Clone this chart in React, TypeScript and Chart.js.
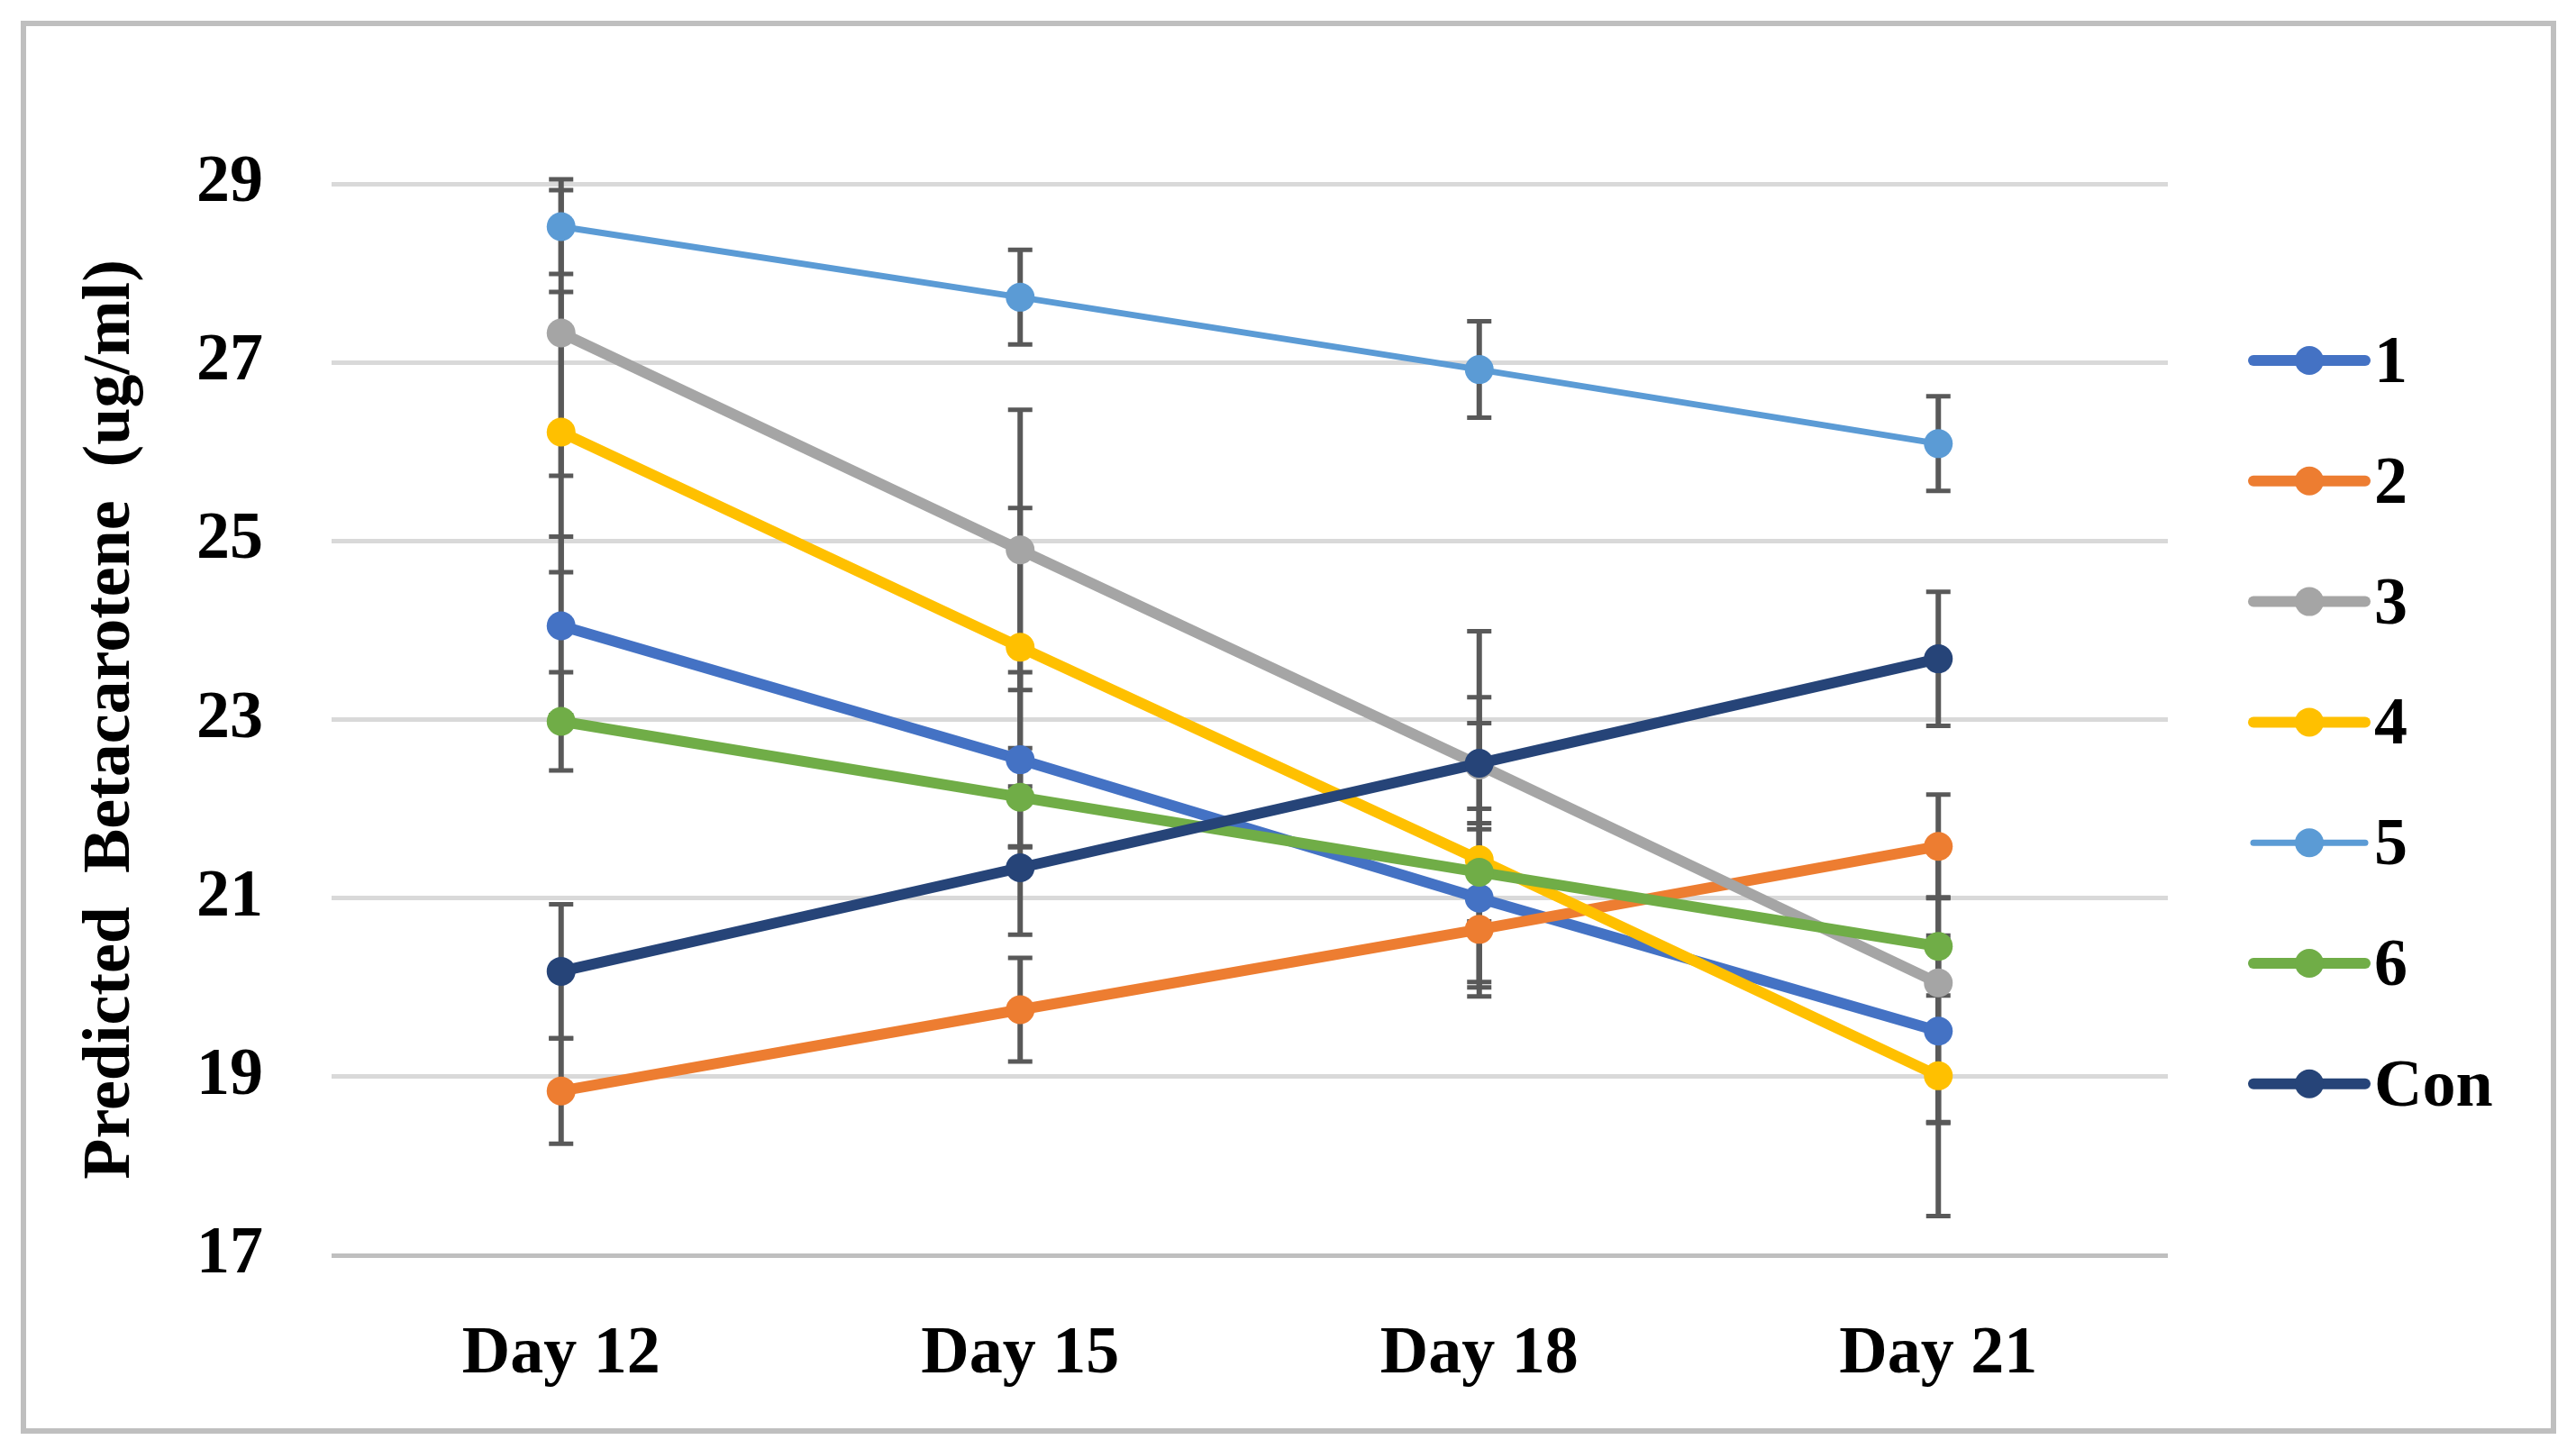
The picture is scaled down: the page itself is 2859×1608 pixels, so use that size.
import React, { useEffect, useRef } from "react";
import { Chart, registerables } from "chart.js";

Chart.register(...registerables);

// ---- data ----
const days = ["Day 12", "Day 15", "Day 18", "Day 21"];
const seriesNames = ["1", "2", "3", "4", "5", "6", "Con"];

const s1 = [24.05, 22.55, 21.0, 19.51];
const s2 = [18.84, 19.75, 20.65, 21.58];
const s3 = [27.33, 24.9, 22.49, 20.05];
const s4 = [26.22, 23.81, 21.43, 19.01];
const s5 = [28.52, 27.73, 26.92, 26.09];
const s6 = [22.98, 22.13, 21.29, 20.46];
const sCon = [20.18, 21.34, 22.51, 23.68];

const e1 = [1.0, 0.98, 1.0, 1.02];
const e2 = [0.59, 0.58, 0.59, 0.58];
const e3 = [1.6, 1.57, 1.5, 1.57];
const e4 = [1.57, 1.56, 1.53, 1.57];
const e5 = [0.53, 0.53, 0.54, 0.53];
const e6 = [0.55, 0.55, 0.55, 0.55];
const eCon = [0.75, 0.75, 0.74, 0.75];

const yMin = 17;
const yMax = 29;
const yStep = 2;

const yTitle = "Predicted  Betacarotene  (ug/ml)";

// ---- styles ----
const colors = ["#4472C4", "#ED7D31", "#A5A5A5", "#FFC000", "#5B9BD5", "#70AD47", "#264478"];
const lineWidths = [12, 12, 12, 12, 7, 12, 12];
const FONT = '"Liberation Serif", "Times New Roman", serif';

const values = [s1, s2, s3, s4, s5, s6, sCon];
const errors = [e1, e2, e3, e4, e5, e6, eCon];

const errorBarPlugin = {
  id: "errorBars",
  beforeDatasetsDraw(chart: any) {
    const { ctx } = chart;
    const xs = chart.scales.x;
    const ys = chart.scales.y;
    ctx.save();
    ctx.strokeStyle = "#595959";
    ctx.lineCap = "butt";
    chart.data.datasets.forEach((ds: any, d: number) => {
      const errs = errors[d];
      ds.data.forEach((v: number, i: number) => {
        const x = xs.getPixelForValue(i);
        const yHi = ys.getPixelForValue(v + errs[i]);
        const yLo = ys.getPixelForValue(v - errs[i]);
        ctx.lineWidth = 6;
        ctx.beginPath();
        ctx.moveTo(x, yHi);
        ctx.lineTo(x, yLo);
        ctx.stroke();
        ctx.lineWidth = 5;
        ctx.beginPath();
        ctx.moveTo(x - 13.5, yHi);
        ctx.lineTo(x + 13.5, yHi);
        ctx.moveTo(x - 13.5, yLo);
        ctx.lineTo(x + 13.5, yLo);
        ctx.stroke();
      });
    });
    ctx.restore();
  },
};

const xLabelPlugin = {
  id: "xLabels",
  afterDraw(chart: any) {
    const { ctx, chartArea } = chart;
    const xs = chart.scales.x;
    ctx.save();
    ctx.font = `bold 74px ${FONT}`;
    ctx.fillStyle = "#000000";
    ctx.textAlign = "center";
    ctx.textBaseline = "alphabetic";
    chart.data.labels.forEach((lab: string, i: number) => {
      const x = xs.getPixelForValue(i);
      ctx.fillText(lab, x, chartArea.bottom + 130);
    });
    ctx.restore();
  },
};

const legendPlugin = {
  id: "excelLegend",
  afterDraw(chart: any) {
    const { ctx, chartArea } = chart;
    const x0 = chartArea.right + 95;
    const x1 = x0 + 124;
    const xm = (x0 + x1) / 2;
    const top = chartArea.top + 196;
    const gap = 133.8;
    ctx.save();
    chart.data.datasets.forEach((ds: any, i: number) => {
      const y = top + i * gap;
      ctx.strokeStyle = ds.borderColor;
      ctx.lineWidth = ds.borderWidth;
      ctx.lineCap = "round";
      ctx.beginPath();
      ctx.moveTo(x0, y);
      ctx.lineTo(x1, y);
      ctx.stroke();
      ctx.fillStyle = ds.pointBackgroundColor;
      ctx.beginPath();
      ctx.arc(xm, y, 16, 0, Math.PI * 2);
      ctx.fill();
      ctx.fillStyle = "#000000";
      ctx.font = `bold 74px ${FONT}`;
      ctx.textAlign = "left";
      ctx.textBaseline = "alphabetic";
      ctx.fillText(ds.label, x1 + 10, y + 24);
    });
    ctx.restore();
  },
};

export default function App() {
  const canvasRef = useRef<HTMLCanvasElement | null>(null);

  useEffect(() => {
    if (!canvasRef.current) return;
    const datasets = seriesNames.map((name, i) => ({
      label: name,
      data: values[i],
      borderColor: colors[i],
      backgroundColor: colors[i],
      pointBackgroundColor: colors[i],
      pointBorderColor: colors[i],
      pointBorderWidth: 0,
      pointRadius: 16,
      pointHoverRadius: 16,
      borderWidth: lineWidths[i],
      borderJoinStyle: "round",
      borderCapStyle: "round",
      tension: 0,
      fill: false,
      order: seriesNames.length - 1 - i,
    }));

    const chart = new Chart(canvasRef.current, {
      type: "line",
      data: { labels: days, datasets: datasets as any },
      options: {
        animation: false,
        responsive: false,
        devicePixelRatio: 1,
        layout: { autoPadding: false, padding: { top: 204, right: 453, bottom: 0, left: 0 } },
        plugins: {
          legend: { display: false },
          tooltip: { enabled: false },
          title: { display: false },
        },
        scales: {
          x: {
            type: "category",
            offset: true,
            grid: { display: false, drawTicks: false },
            border: { display: false },
            ticks: { display: false },
            afterFit: (scale: any) => {
              scale.height = 215;
            },
          },
          y: {
            min: yMin,
            max: yMax,
            border: { display: false },
            grid: {
              color: (c: any) => (c.tick && c.tick.value === yMin ? "#BFBFBF" : "#D9D9D9"),
              lineWidth: 5,
              drawTicks: false,
            },
            ticks: {
              stepSize: yStep,
              padding: 76,
              color: "#000000",
              font: { family: FONT, size: 74, weight: "bold" },
            },
            title: {
              display: true,
              text: yTitle,
              color: "#000000",
              font: { family: FONT, size: 74, weight: "bold" },
              padding: { top: 79, bottom: 0 },
            },
            afterFit: (scale: any) => {
              scale.width = 368;
            },
          },
        },
      } as any,
      plugins: [errorBarPlugin, xLabelPlugin, legendPlugin],
    });
    return () => chart.destroy();
  }, []);

  return (
    <div style={{ position: "absolute", left: 0, top: 0, width: 2859, height: 1608, background: "#ffffff" }}>
      <div
        style={{
          position: "absolute",
          left: 23,
          top: 23,
          width: 2814,
          height: 1568,
          border: "6px solid #BFBFBF",
          boxSizing: "border-box",
        }}
      />
      <canvas
        ref={canvasRef}
        width={2859}
        height={1608}
        style={{ position: "absolute", left: 0, top: 0, width: 2859, height: 1608 }}
      />
    </div>
  );
}
